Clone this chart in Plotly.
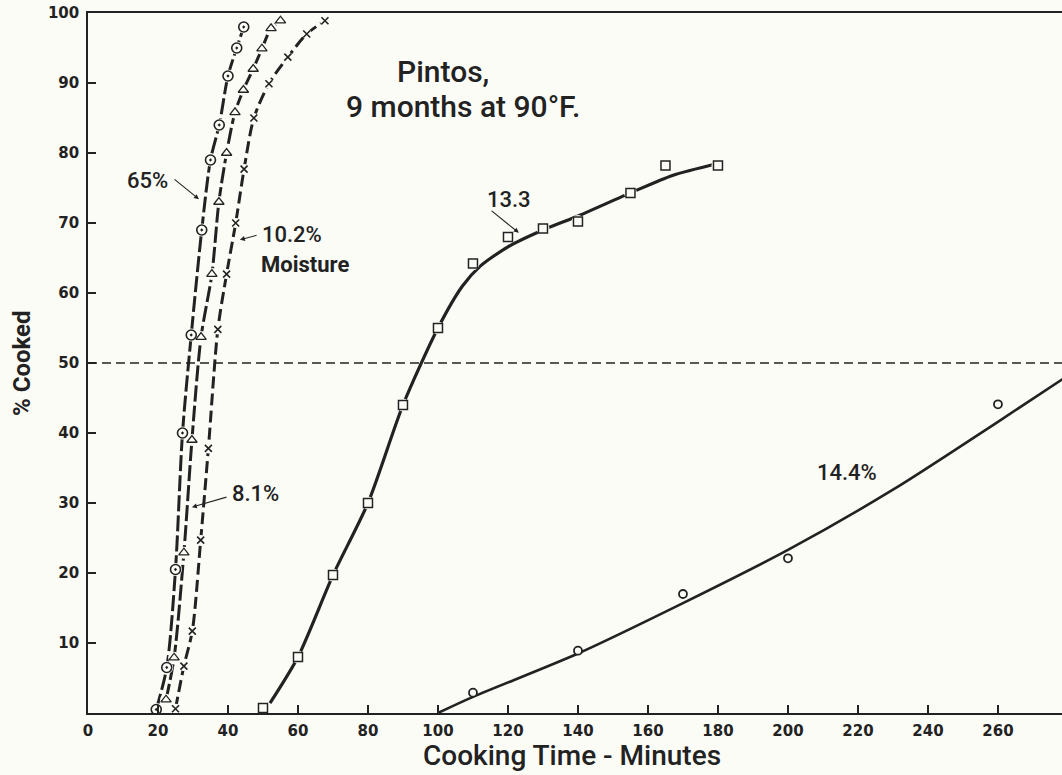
import plotly.graph_objects as go

BG = "#fcfcf7"
INK = "#222222"

# ---- data ----
circ_x = [19.5, 22.5, 25.0, 27.0, 29.5, 32.5, 35.0, 37.5, 40.0, 42.5, 44.5]
circ_y = [0.5, 6.5, 20.5, 40.0, 54.0, 69.0, 79.0, 84.0, 91.0, 95.0, 98.0]

tri_x = [22.3, 24.6, 27.4, 29.7, 32.3, 35.4, 37.4, 39.6, 42.0, 44.4, 47.2, 49.7, 52.3, 55.0]
tri_y = [1.9, 7.9, 22.9, 39.0, 53.7, 62.7, 73.0, 80.0, 85.8, 89.0, 92.0, 94.9, 97.8, 98.9]

xm_x = [25.0, 27.4, 29.8, 32.2, 34.4, 37.1, 39.6, 42.2, 44.6, 47.4, 51.7, 57.1, 62.5, 67.7]
xm_y = [0.6, 6.7, 11.7, 24.7, 37.8, 54.8, 62.7, 70.0, 77.7, 85.0, 89.9, 93.7, 97.0, 98.9]

sq_x = [50, 60, 70, 80, 90, 100, 110, 120, 130, 140, 155, 165, 180]
sq_y = [0.7, 8.0, 19.7, 30.0, 44.0, 55.0, 64.2, 68.0, 69.2, 70.2, 74.3, 78.2, 78.2]
sq_fit_x = [52, 60, 70, 80, 90, 100, 107, 112, 120, 130, 140, 155, 167, 180]
sq_fit_y = [1.4, 8.0, 19.7, 30.0, 44.0, 55.0, 61.0, 63.8, 66.6, 69.0, 71.0, 74.3, 76.8, 78.5]

hc_x = [110, 140, 170, 200, 260, 280]
hc_y = [2.9, 8.9, 17.0, 22.1, 44.1, 45.0]
hc_fit_x = [100, 110, 140, 170, 200, 230, 260, 280]
hc_fit_y = [0.0, 2.3, 8.5, 15.7, 23.3, 31.9, 41.6, 48.2]

HALF = 50
x_ticks = [0, 20, 40, 60, 80, 100, 120, 140, 160, 180, 200, 220, 240, 260]
y_ticks = [10, 20, 30, 40, 50, 60, 70, 80, 90, 100]

# labels: (text, x, y, size, bold)
labels = [
    ("Pintos,", 101.4, 91.6, 30, False),
    ("9 months at 90°F.", 107.1, 86.6, 30, False),
    ("65%", 16.9, 76.1, 22, False),
    ("10.2%", 58.3, 68.3, 22, False),
    ("Moisture", 61.9, 64.1, 22, True),
    ("8.1%", 48.0, 31.3, 22, False),
    ("13.3", 120.3, 73.4, 22, False),
    ("14.4%", 216.9, 34.3, 22, False),
]
# arrows: (tail_x, tail_y, head_x, head_y)
arrows = [
    (24.3, 76.4, 31.7, 73.4),
    (48.6, 68.3, 43.4, 67.6),
    (40.0, 30.9, 29.7, 29.4),
    (114.9, 71.9, 123.1, 68.6),
]

LABEL_FONT = "Roboto"

fig = go.Figure()

def curve(x, y, dash, width, smooth=1.0):
    fig.add_trace(go.Scatter(x=x, y=y, mode="lines",
                             line=dict(color=INK, width=width, dash=dash,
                                       shape="spline", smoothing=smooth),
                             hoverinfo="skip", showlegend=False))

def gap(x, y, size):
    fig.add_trace(go.Scatter(x=x, y=y, mode="markers",
                             marker=dict(color=BG, size=size, line=dict(width=0)),
                             hoverinfo="skip", showlegend=False))

def marks(x, y, symbol, size, lw=1.4, fill=None):
    m = dict(symbol=symbol, size=size, color=fill if fill else INK,
             line=dict(color=INK, width=lw))
    fig.add_trace(go.Scatter(x=x, y=y, mode="markers", marker=m, showlegend=False))

curve(circ_x, circ_y, "16px,4px", 3, 0.8)
curve(tri_x, tri_y, "16px,4px", 3, 0.8)
curve(xm_x, xm_y, "12px,5px", 3, 0.8)
curve(sq_fit_x, sq_fit_y, "solid", 3.2, 0.7)
curve(hc_fit_x, hc_fit_y, "solid", 2.6, 0.8)

gap(circ_x, circ_y, 13)
gap(tri_x, tri_y, 12)
gap(xm_x, xm_y, 10)
gap(sq_x, sq_y, 13)

marks(circ_x, circ_y, "circle-open-dot", 10, 1.6)
marks(tri_x, tri_y, "triangle-up-open", 9, 1.3)
marks(xm_x, xm_y, "x-thin-open", 7, 1.6)
marks(sq_x, sq_y, "square", 9, 1.5, fill=BG)
marks(hc_x, hc_y, "circle", 8, 1.8, fill=BG)

fig.add_shape(type="line", xref="paper", yref="y", x0=0, x1=1, y0=HALF, y1=HALF,
              line=dict(color=INK, width=1.4, dash="9px,5px"))

for text, x, y, size, bold in labels:
    fig.add_annotation(x=x, y=y, xref="x", yref="y", showarrow=False, text=text,
                       font=dict(family=LABEL_FONT, size=size, color=INK,
                                 weight=700 if bold else 500))

for tx, ty, hx, hy in arrows:
    fig.add_annotation(x=hx, y=hy, ax=tx, ay=ty, xref="x", yref="y",
                       axref="x", ayref="y", text="", showarrow=True,
                       arrowhead=2, arrowsize=0.9, arrowwidth=1.1,
                       arrowcolor=INK, standoff=0, startstandoff=0)

# axis titles
fig.add_annotation(text="Cooking Time - Minutes", xref="paper", yref="paper",
                   x=0.497, y=0, yshift=-61, yanchor="bottom", showarrow=False,
                   font=dict(family=LABEL_FONT, size=28, color=INK, weight=500))
fig.add_annotation(text="% Cooked", xref="paper", yref="paper",
                   x=-66 / 974, y=0.5, xanchor="center", yanchor="middle",
                   textangle=-90, showarrow=False,
                   font=dict(family=LABEL_FONT, size=24, color=INK, weight=700))

fig.update_layout(
    width=1062, height=775,
    margin=dict(l=88, r=0, t=13, b=62, autoexpand=False),
    paper_bgcolor=BG, plot_bgcolor=BG,
    showlegend=False,
    xaxis=dict(range=[0, 278.3], tickvals=x_ticks, ticks="inside", ticklen=8,
               tickwidth=1.5, tickcolor=INK, showline=True, linecolor=INK,
               linewidth=1.6, mirror=True, showgrid=False, zeroline=False,
               automargin=False, ticklabelstandoff=3,
               tickfont=dict(family="DejaVu Sans", size=15, color=INK, weight="bold")),
    yaxis=dict(range=[0, 100], tickvals=y_ticks, ticks="inside", ticklen=8,
               tickwidth=1.5, tickcolor=INK, showline=True, linecolor=INK,
               linewidth=1.6, showgrid=False, zeroline=False,
               automargin=False, ticklabelstandoff=4,
               tickfont=dict(family="DejaVu Sans", size=15, color=INK, weight="bold")),
)

fig.write_html(
    "out.html",
    config={"displayModeBar": False},
    post_script="document.body.style.margin='0';document.body.style.overflow='hidden';",
)
